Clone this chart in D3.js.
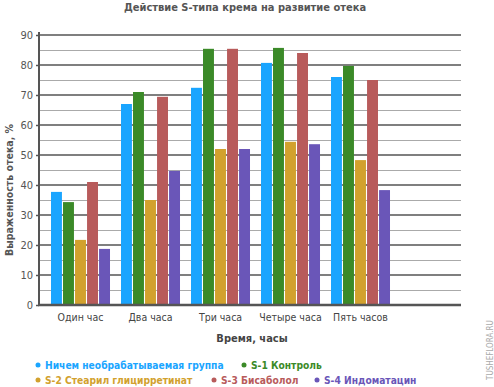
<!DOCTYPE html>
<html><head><meta charset="utf-8">
<script src="https://cdn.jsdelivr.net/npm/d3@7"></script>
<style>body{margin:0;background:#fff}svg{display:block}text{font-family:"DejaVu Sans Condensed","DejaVu Sans",sans-serif}</style>
</head><body><svg id="c" width="494" height="387"></svg>
<script>
const categories = ["Один час","Два часа","Три часа","Четыре часа","Пять часов",""];
const seriesNames = ["Ничем необрабатываемая группа","S-1 Контроль","S-2 Стеарил глицирретинат","S-3 Бисаболол","S-4 Индоматацин"];
const seriesColors = ["#1aa5ff","#3b8a28","#d2a12e","#b85b5b","#6a56b8"];
const untreated = [37.7, 67, 72.4, 80.7, 76];
const s1 = [34.3, 71, 85.4, 85.7, 79.7];
const s2 = [21.7, 35, 52, 54.4, 48.3];
const s3 = [41, 69.4, 85.4, 84, 75];
const s4 = [18.7, 44.7, 52, 53.6, 38.3];
const yTicks = [0,10,20,30,40,50,60,70,80,90];
const series = [untreated, s1, s2, s3, s4];

const svg = d3.select("#c");
const L = 39, R = 461, T = 35, B = 305;
const y = d3.scaleLinear().domain([0,90]).range([B,T]);
const x = d3.scaleBand().domain(categories).range([45.5,465.5]).paddingInner(0.157).paddingOuter(0.0785);
const xs = d3.scaleBand().domain(d3.range(series.length)).range([0,x.bandwidth()]).paddingInner(0.09);

svg.append("text").attr("x",245).attr("y",11).attr("text-anchor","middle").attr("font-size",11).attr("font-weight","bold").attr("fill","#555").text("Действие S-типа крема на развитие отека");

// minor grid
const minor = d3.range(5,90,10);
svg.append("g").selectAll("line").data(minor).join("line")
  .attr("x1",L).attr("x2",R).attr("y1",d=>y(d)+0.5).attr("y2",d=>y(d)+0.5).attr("stroke","#aaa").attr("stroke-width",1);
// major grid
svg.append("g").selectAll("line").data(yTicks.slice(1)).join("line")
  .attr("x1",L).attr("x2",R).attr("y1",d=>y(d)).attr("y2",d=>y(d)).attr("stroke","#555").attr("stroke-width",1.5);

// bars
const g = svg.append("g");
series.forEach((vals,si)=>{
  g.append("g").selectAll("rect").data(vals).join("rect")
    .attr("x",(d,i)=>x(categories[i])+xs(si)).attr("width",xs.bandwidth())
    .attr("y",d=>y(d)).attr("height",d=>B-y(d)).attr("fill",seriesColors[si]);
});

// y axis
const yAxis = d3.axisLeft(y).tickValues(yTicks).tickSize(3).tickPadding(3);
const ya = svg.append("g").attr("transform",`translate(${L},0)`).call(yAxis);
ya.select(".domain").attr("stroke","#555").attr("stroke-width",2).attr("d",`M0,${T-3}V${B}`);
ya.selectAll(".tick line").attr("stroke","#555").attr("stroke-width",1.5);
ya.selectAll(".tick text").attr("font-size",11).attr("fill","#555").attr("font-family","DejaVu Sans Condensed, DejaVu Sans");
// bottom axis
svg.append("line").attr("x1",L-1).attr("x2",R).attr("y1",B).attr("y2",B).attr("stroke","#555").attr("stroke-width",2.5);
const xAxis = d3.axisBottom(x).tickSize(0).tickPadding(9);
const xa = svg.append("g").attr("transform",`translate(0,${B})`).call(xAxis);
xa.select(".domain").remove();
xa.selectAll(".tick text").attr("font-size",10.5).attr("fill","#444").attr("font-family","DejaVu Sans Condensed, DejaVu Sans");

svg.append("text").attr("x",252).attr("y",342).attr("text-anchor","middle").attr("font-size",11).attr("font-weight","bold").attr("fill","#444").text("Время, часы");
svg.append("text").attr("transform","translate(13,190) rotate(-90)").attr("text-anchor","middle").attr("font-size",10.5).attr("font-weight","bold").attr("fill","#555").text("Выраженность отека, %");

// legend
const legPos = [[36,369],[242,369],[36,384],[212,384],[315,384]];
seriesNames.forEach((n,i)=>{
  const [lx,ly] = legPos[i];
  svg.append("circle").attr("cx",lx+2).attr("cy",ly-4).attr("r",2.5).attr("fill",seriesColors[i]);
  svg.append("text").attr("x",lx+9).attr("y",ly).attr("font-size",10.2).attr("font-weight","bold").attr("fill",seriesColors[i]).text(n);
});

svg.append("text").attr("transform","translate(493,380) rotate(-90)").attr("font-size",8).attr("fill","#aaa").attr("font-family","DejaVu Sans Mono, monospace").text("TUSHEFLORA.RU");
</script></body></html>
